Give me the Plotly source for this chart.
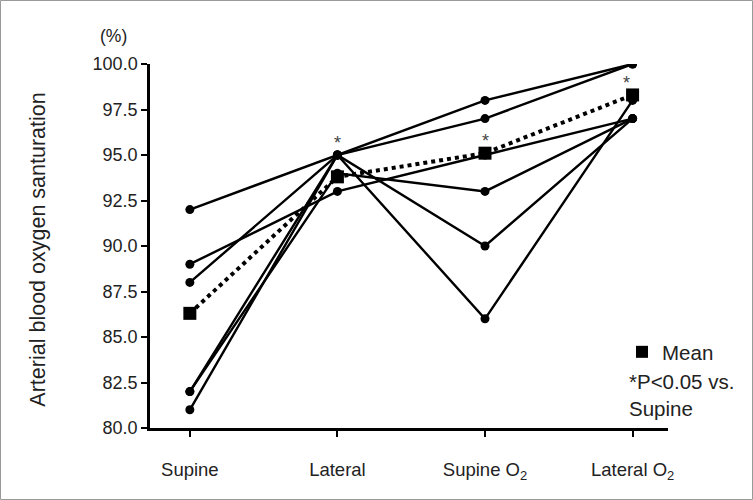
import plotly.graph_objects as go

categories = ["Supine", "Lateral", "Supine O<sub>2</sub>", "Lateral O<sub>2</sub>"]
positions = [0, 1, 2, 3]

subject_1 = [92, 95, 98, 100]
subject_2 = [89, 93, 95, 97]
subject_3 = [88, 95, 97, 100]
subject_4 = [82, 95, 90, 97]
subject_5 = [81, 95, 86, 98]
subject_6 = [82, 94, 93, 97]
subjects = [subject_1, subject_2, subject_3, subject_4, subject_5, subject_6]

mean_values = [86.3, 93.8, 95.1, 98.3]
significant = [False, True, True, True]

y_ticks = [80.0, 82.5, 85.0, 87.5, 90.0, 92.5, 95.0, 97.5, 100.0]

FONT = "Liberation Sans, Arial, sans-serif"

fig = go.Figure()
for s in subjects:
    fig.add_trace(go.Scatter(
        x=positions, y=s, mode="lines+markers",
        line=dict(color="black", width=2.4),
        marker=dict(color="black", size=9, symbol="circle"),
        showlegend=False, hoverinfo="skip"))

fig.add_trace(go.Scatter(
    x=positions, y=mean_values, mode="lines+markers",
    line=dict(color="black", width=4, dash="dot"),
    marker=dict(color="black", size=13, symbol="square"),
    showlegend=False))

fig.add_trace(go.Scatter(
    x=[None], y=[None], mode="markers", name="Mean",
    marker=dict(color="black", size=12, symbol="square"),
    showlegend=True))

for xp, m, sig in zip(positions, mean_values, significant):
    if sig:
        top = max([s[xp] for s in subjects] + [m]) if xp == 1 else m
        fig.add_annotation(x=xp, y=top, text="*", showarrow=False,
                           yshift=12, xshift=-6 if xp == 3 else 0,
                           font=dict(family=FONT, size=18, color="#444"))

fig.add_annotation(xref="paper", yref="paper", x=(627 - 150) / 518, y=(428 - 381) / 364,
                   xanchor="left", yanchor="middle", showarrow=False,
                   text="*P<0.05 vs.", font=dict(family=FONT, size=20.5, color="#222"))
fig.add_annotation(xref="paper", yref="paper", x=(627 - 150) / 518, y=(428 - 408) / 364,
                   xanchor="left", yanchor="middle", showarrow=False,
                   text="Supine", font=dict(family=FONT, size=20.5, color="#222"))
fig.add_annotation(xref="paper", yref="paper", x=(113 - 150) / 518, y=(428 - 36) / 364,
                   xanchor="center", yanchor="middle", showarrow=False,
                   text="(%)", font=dict(family=FONT, size=17.5, color="#222"))
fig.add_annotation(xref="paper", yref="paper", x=(38 - 150) / 518, y=0.49,
                   xanchor="center", yanchor="middle", showarrow=False, textangle=-90,
                   text="Arterial blood oxygen santuration",
                   font=dict(family=FONT, size=21.5, color="#222"))

fig.add_shape(type="rect", xref="paper", yref="paper",
              x0=(0.5 - 150) / 518, x1=(752.5 - 150) / 518,
              y0=(428 - 499.5) / 364, y1=(428 - 0.5) / 364,
              line=dict(color="#999", width=1))

fig.update_layout(
    width=753, height=500,
    margin=dict(l=150, r=85, t=64, b=72),
    paper_bgcolor="white", plot_bgcolor="white",
    font=dict(family=FONT, size=16, color="#222"),
    legend=dict(x=(622 - 150) / 518, y=(428 - 352) / 364, xanchor="left", yanchor="middle",
                font=dict(family=FONT, size=20.5, color="#222"), bgcolor="rgba(0,0,0,0)",
                itemwidth=30, tracegroupgap=0),
)
fig.update_xaxes(range=[-0.27, 3.24], tickvals=positions, ticktext=categories,
                 showline=True, linecolor="black", linewidth=2.5, ticks="outside",
                 ticklen=6, tickwidth=2, tickcolor="black", showgrid=False, zeroline=False,
                 tickfont=dict(family=FONT, size=18.5, color="#222"), ticklabelstandoff=17)
fig.update_yaxes(range=[80, 100], tickvals=y_ticks, tickformat=".1f",
                 showline=True, linecolor="black", linewidth=2.5, ticks="outside",
                 ticklen=6, tickwidth=2, tickcolor="black", showgrid=False, zeroline=False,
                 tickfont=dict(family=FONT, size=18, color="#222"))

fig.write_html("out.html", config={"displayModeBar": False},
               post_script="document.body.style.margin='0';")
